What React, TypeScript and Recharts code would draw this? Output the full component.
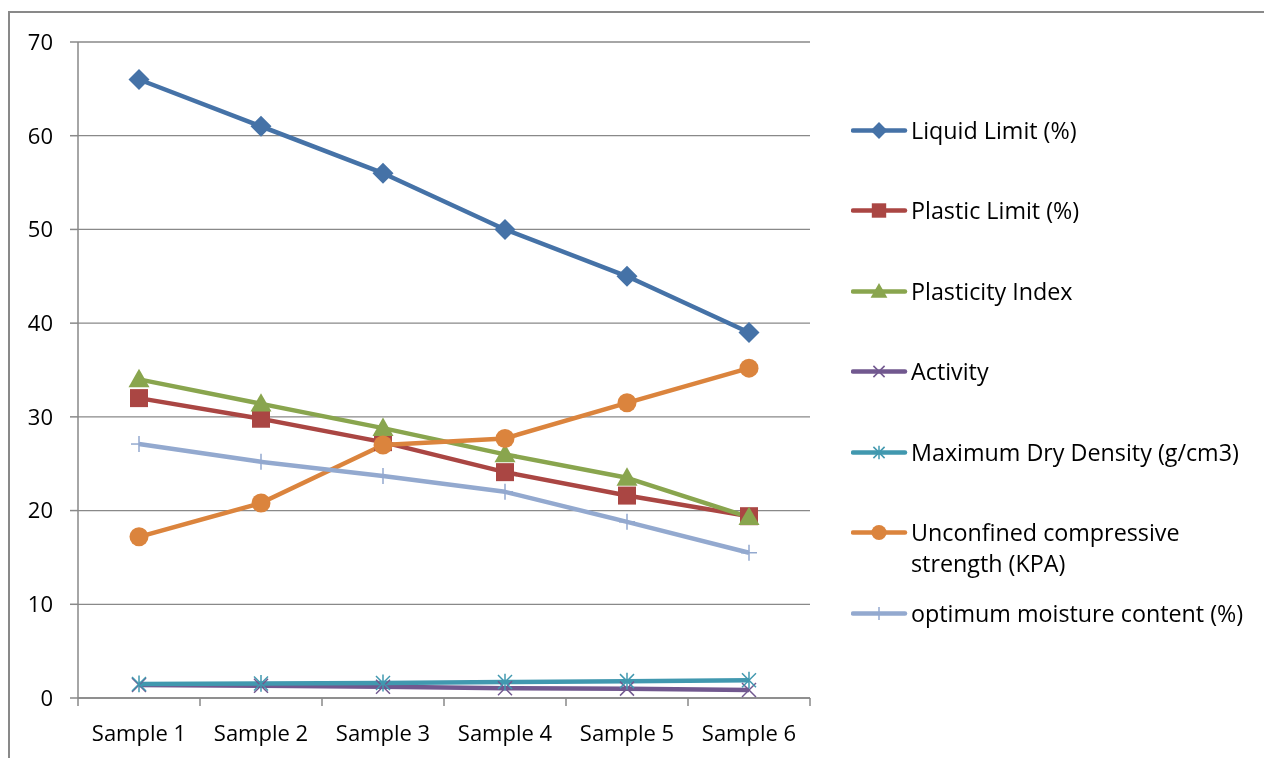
import { LineChart, Line, XAxis, YAxis, CartesianGrid } from 'recharts';

// sample labels and measured values
const categories = ['Sample 1', 'Sample 2', 'Sample 3', 'Sample 4', 'Sample 5', 'Sample 6'];
const liquidLimit = [66, 61, 56, 50, 45, 39];
const plasticLimit = [32, 29.8, 27.3, 24.1, 21.6, 19.4];
const plasticityIndex = [34, 31.4, 28.8, 26, 23.5, 19.3];
const activity = [1.4, 1.3, 1.2, 1.05, 1.0, 0.85];
const maxDryDensity = [1.5, 1.55, 1.6, 1.7, 1.8, 1.9];
const ucs = [17.2, 20.8, 27, 27.7, 31.5, 35.2];
const omc = [27.1, 25.2, 23.7, 22, 18.8, 15.5];
const yTicks = [0, 10, 20, 30, 40, 50, 60, 70];

type Shape = 'diamond' | 'square' | 'triangle' | 'x' | 'star' | 'circle' | 'plus';

const series: { key: string; name: string; color: string; shape: Shape; values: number[] }[] = [
  { key: 'll', name: 'Liquid Limit (%)', color: '#4572A7', shape: 'diamond', values: liquidLimit },
  { key: 'pl', name: 'Plastic Limit (%)', color: '#AA4643', shape: 'square', values: plasticLimit },
  { key: 'pi', name: 'Plasticity Index', color: '#89A54E', shape: 'triangle', values: plasticityIndex },
  { key: 'act', name: 'Activity', color: '#71588F', shape: 'x', values: activity },
  { key: 'mdd', name: 'Maximum Dry Density (g/cm3)', color: '#4198AF', shape: 'star', values: maxDryDensity },
  { key: 'ucs', name: 'Unconfined compressive strength (KPA)', color: '#DB843D', shape: 'circle', values: ucs },
  { key: 'omc', name: 'optimum moisture content (%)', color: '#93A9CF', shape: 'plus', values: omc },
];

// x sits in the middle of each category band on a 0..n numeric axis
const data = categories.map((name, i) => {
  const row: Record<string, number | string> = { x: i + 0.5, name };
  series.forEach((s) => (row[s.key] = s.values[i]));
  return row;
});
const xTicks = Array.from({ length: categories.length * 2 + 1 }, (_, i) => i / 2);

const FONT = "'Open Sans', sans-serif";
const GRID = '#898989';

const Marker = ({ shape, color, cx, cy, k = 1 }: { shape: Shape; color: string; cx: number; cy: number; k?: number }) => {
  switch (shape) {
    case 'diamond': {
      const r = 10.5 * k;
      return <polygon points={`${cx},${cy - r} ${cx + r},${cy} ${cx},${cy + r} ${cx - r},${cy}`} fill={color} />;
    }
    case 'square': {
      const r = 9 * k;
      return <rect x={cx - r} y={cy - r} width={r * 2} height={r * 2} fill={color} />;
    }
    case 'triangle': {
      const r = 10.5 * k;
      return <polygon points={`${cx},${cy - r} ${cx + r},${cy + r * 0.75} ${cx - r},${cy + r * 0.75}`} fill={color} />;
    }
    case 'x': {
      const r = 7 * k;
      return (
        <g stroke={color} strokeWidth={1.5}>
          <line x1={cx - r} y1={cy - r} x2={cx + r} y2={cy + r} />
          <line x1={cx - r} y1={cy + r} x2={cx + r} y2={cy - r} />
        </g>
      );
    }
    case 'star': {
      const r = 7 * k;
      return (
        <g stroke={color} strokeWidth={1.5}>
          <line x1={cx - r} y1={cy - r} x2={cx + r} y2={cy + r} />
          <line x1={cx - r} y1={cy + r} x2={cx + r} y2={cy - r} />
          <line x1={cx} y1={cy - r * 1.2} x2={cx} y2={cy + r * 1.2} />
        </g>
      );
    }
    case 'circle':
      return <circle cx={cx} cy={cy} r={9.5 * k} fill={color} />;
    case 'plus': {
      const r = 8 * k;
      return (
        <g stroke={color} strokeWidth={1.5}>
          <line x1={cx - r} y1={cy} x2={cx + r} y2={cy} />
          <line x1={cx} y1={cy - r} x2={cx} y2={cy + r} />
        </g>
      );
    }
  }
};

// integer ticks draw the band edge marks, half ticks carry the category label
const XTick = (props: any) => {
  const { x, y, payload } = props;
  const v = payload.value as number;
  if (Number.isInteger(v)) {
    return <line x1={x} y1={y} x2={x} y2={y + 8} stroke={GRID} strokeWidth={1.5} />;
  }
  return (
    <text x={x} y={y + 35} dy="0.355em" textAnchor="middle" fill="#000" fontSize={22} fontFamily={FONT}>
      {categories[Math.floor(v)]}
    </text>
  );
};

export default function App() {
  return (
    <div style={{ position: 'relative', width: 1248, height: 742, fontFamily: FONT }}>
      {/* outer frame runs off the page, fixed so it adds no scroll */}
      <div
        style={{
          position: 'fixed',
          left: 8,
          top: 11,
          width: 1280,
          height: 780,
          borderLeft: `2px solid ${GRID}`,
          borderTop: `2px solid ${GRID}`,
          boxSizing: 'border-box',
        }}
      />
      <div style={{ position: 'absolute', left: 0, top: 0 }}>
        <LineChart width={1248} height={742} data={data} margin={{ top: 34, right: 446, left: 0, bottom: 0 }}>
          <CartesianGrid vertical={false} stroke={GRID} strokeWidth={1.3} />
          <XAxis
            dataKey="x"
            type="number"
            domain={[0, categories.length]}
            ticks={xTicks}
            interval={0}
            height={52}
            tickLine={false}
            tickSize={0}
            tickMargin={0}
            axisLine={{ stroke: GRID, strokeWidth: 1.5 }}
            tick={<XTick />}
          />
          <YAxis
            domain={[0, 70]}
            ticks={yTicks}
            width={70}
            tickSize={8}
            tickMargin={17}
            tickLine={{ stroke: GRID, strokeWidth: 1.5 }}
            axisLine={{ stroke: GRID, strokeWidth: 1.5 }}
            tick={{ fill: '#000', fontSize: 22, fontFamily: FONT }}
          />
          {series.map((s) => (
            <Line
              key={s.key}
              dataKey={s.key}
              name={s.name}
              stroke={s.color}
              strokeWidth={4.5}
              strokeLinejoin="round"
              isAnimationActive={false}
              dot={(p: any) => <Marker key={`${s.key}-${p.index}`} shape={s.shape} color={s.color} cx={p.cx} cy={p.cy} />}
              activeDot={false}
            />
          ))}
        </LineChart>
      </div>
      <div style={{ position: 'absolute', left: 843, top: 106.5 }}>
        {series.map((s) => (
          <div key={s.key} style={{ display: 'flex', alignItems: 'flex-start', height: 80.5 }}>
            <svg width={60} height={31} style={{ flex: 'none' }}>
              <line x1={2} y1={15.5} x2={54} y2={15.5} stroke={s.color} strokeWidth={4.5} strokeLinecap="round" />
              <Marker shape={s.shape} color={s.color} cx={28} cy={15.5} k={0.8} />
            </svg>
            <div style={{ fontSize: 23.3, lineHeight: '31px', color: '#000', maxWidth: 345 }}>{s.name}</div>
          </div>
        ))}
      </div>
    </div>
  );
}
